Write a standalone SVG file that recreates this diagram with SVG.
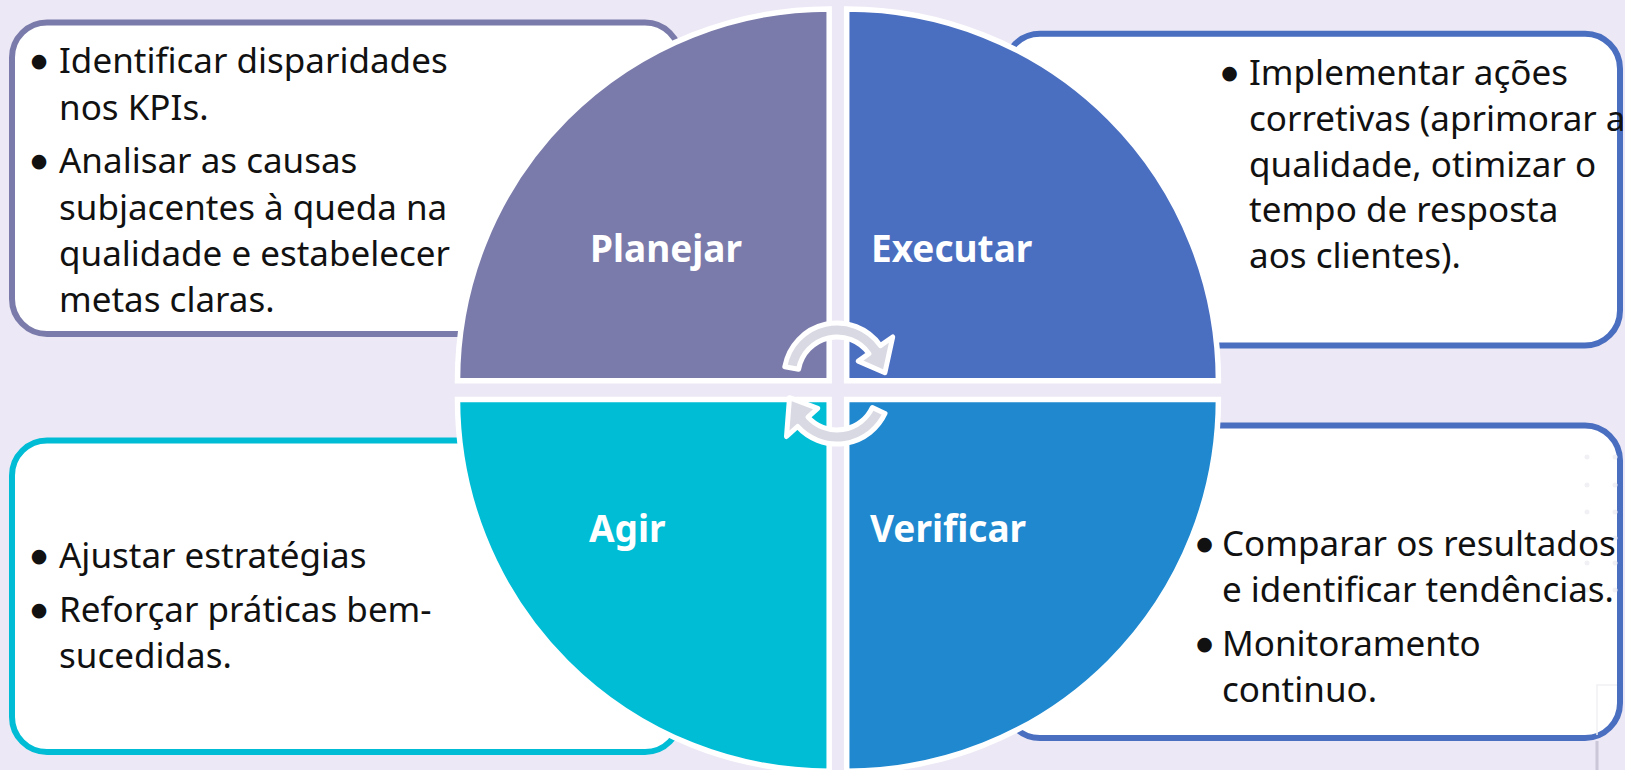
<svg xmlns="http://www.w3.org/2000/svg" width="1625" height="770" viewBox="0 0 1625 770">
<style>
.box{fill:#FFFFFF;stroke-width:6}
.q{stroke:#FFFFFF;stroke-width:5.5;stroke-linejoin:miter}
.t{font-family:"Noto Sans","Open Sans","Liberation Sans",sans-serif;font-size:35px;fill:#111111}
.b{font-family:"DejaVu Sans","Liberation Sans",sans-serif;font-size:19px;fill:#111111;text-anchor:middle}
.lbl{font-family:"Noto Sans","Open Sans","Liberation Sans",sans-serif;font-size:37px;font-weight:bold;fill:#FFFFFF}
.arr{fill:#D9D9E3;stroke:#FFFFFF;stroke-width:5;stroke-linejoin:round}
.deco{fill:#F1F1F5}
</style>
<rect x="0" y="0" width="1625" height="770" fill="#EDE8F5"/>

<g id="box-planejar">
<rect class="box" x="12" y="22.5" width="668" height="311.5" rx="35" stroke="#7A7BAA"/>
<text class="b" x="39" y="67">●</text>
<text class="t" x="59" y="73">Identificar disparidades</text>
<text class="t" x="59" y="120">nos KPIs.</text>
<text class="b" x="39" y="167">●</text>
<text class="t" x="59" y="173">Analisar as causas</text>
<text class="t" x="59" y="220">subjacentes à queda na</text>
<text class="t" x="59" y="266">qualidade e estabelecer</text>
<text class="t" x="59" y="312">metas claras.</text>
</g>

<g id="box-executar">
<rect class="box" x="1005" y="33.7" width="615" height="311.8" rx="35" stroke="#4A6EC0"/>
<text class="b" x="1229.5" y="79">●</text>
<text class="t" x="1249" y="85">Implementar ações</text>
<text class="t" x="1249" y="131">corretivas (aprimorar a</text>
<text class="t" x="1249" y="177">qualidade, otimizar o</text>
<text class="t" x="1249" y="222">tempo de resposta</text>
<text class="t" x="1249" y="268">aos clientes).</text>
</g>

<g id="box-agir">
<rect class="box" x="12" y="440.5" width="668" height="311.5" rx="35" stroke="#00BCD4"/>
<text class="b" x="39" y="562">●</text>
<text class="t" x="59" y="568">Ajustar estratégias</text>
<text class="b" x="39" y="616">●</text>
<text class="t" x="59" y="622">Reforçar práticas bem-</text>
<text class="t" x="59" y="668">sucedidas.</text>
</g>

<g id="box-verificar">
<rect class="box" x="1005" y="425.5" width="615" height="312.5" rx="35" stroke="#4A6EC0"/>
<g class="deco">
<circle cx="1587" cy="457" r="2.5"/><circle cx="1615" cy="457" r="2.5"/>
<circle cx="1587" cy="485" r="2.5"/><circle cx="1615" cy="485" r="2.5"/>
<circle cx="1587" cy="512" r="2.5"/><circle cx="1615" cy="512" r="2.5"/>
<circle cx="1587" cy="538" r="2.5"/><circle cx="1615" cy="538" r="2.5"/>
<circle cx="1587" cy="563" r="2.5"/><circle cx="1615" cy="563" r="2.5"/>
<circle cx="1587" cy="590" r="2.5"/><circle cx="1615" cy="590" r="2.5"/>
</g>
<path d="M1597 735 V685 H1617" fill="none" stroke="#F1F1F4" stroke-width="1.5"/>
<text class="b" x="1204.5" y="550">●</text>
<text class="t" x="1222" y="556">Comparar os resultados</text>
<text class="t" x="1222" y="602">e identificar tendências.</text>
<text class="b" x="1204.5" y="650">●</text>
<text class="t" x="1222" y="656">Monitoramento</text>
<text class="t" x="1222" y="702">continuo.</text>
</g>
<line x1="1597" y1="741" x2="1597" y2="770" stroke="#CBC7D8" stroke-width="3"/>

<g id="quad-planejar">
<path class="q" fill="#7A7BAA" d="M829.2 380.7 V9 A371.7 371.7 0 0 0 457.5 380.7 Z"/>
<text class="lbl" x="590" y="262">Planejar</text>
</g>
<g id="quad-executar">
<path class="q" fill="#4A6EC0" d="M846.7 380.7 V9 A371.7 371.7 0 0 1 1218.4 380.7 Z"/>
<text class="lbl" x="871" y="262">Executar</text>
</g>
<g id="quad-agir">
<path class="q" fill="#00BDD6" d="M829.2 399.5 V771.2 A371.7 371.7 0 0 1 457.5 399.5 Z"/>
<text class="lbl" x="589" y="542">Agir</text>
</g>
<g id="quad-verificar">
<path class="q" fill="#1F88CF" d="M846.7 399.5 V771.2 A371.7 371.7 0 0 0 1218.4 399.5 Z"/>
<text class="lbl" x="870" y="542">Verificar</text>
</g>

<g id="connectors">
<path class="arr" d="M784.8 366.8 A53 53 0 0 1 880.4 345.6 L892.7 337 L884.9 372.7 L858.3 361.1 L868.9 353.6 A39 39 0 0 0 798.6 369.2 Z"/>
<path class="arr" d="M885 413.4 A53 53 0 0 1 797.6 426.5 L786.5 436.5 L789.5 397.7 L817.7 408.4 L808 417.1 A39 39 0 0 0 872.3 407.5 Z"/>
</g>
</svg>
